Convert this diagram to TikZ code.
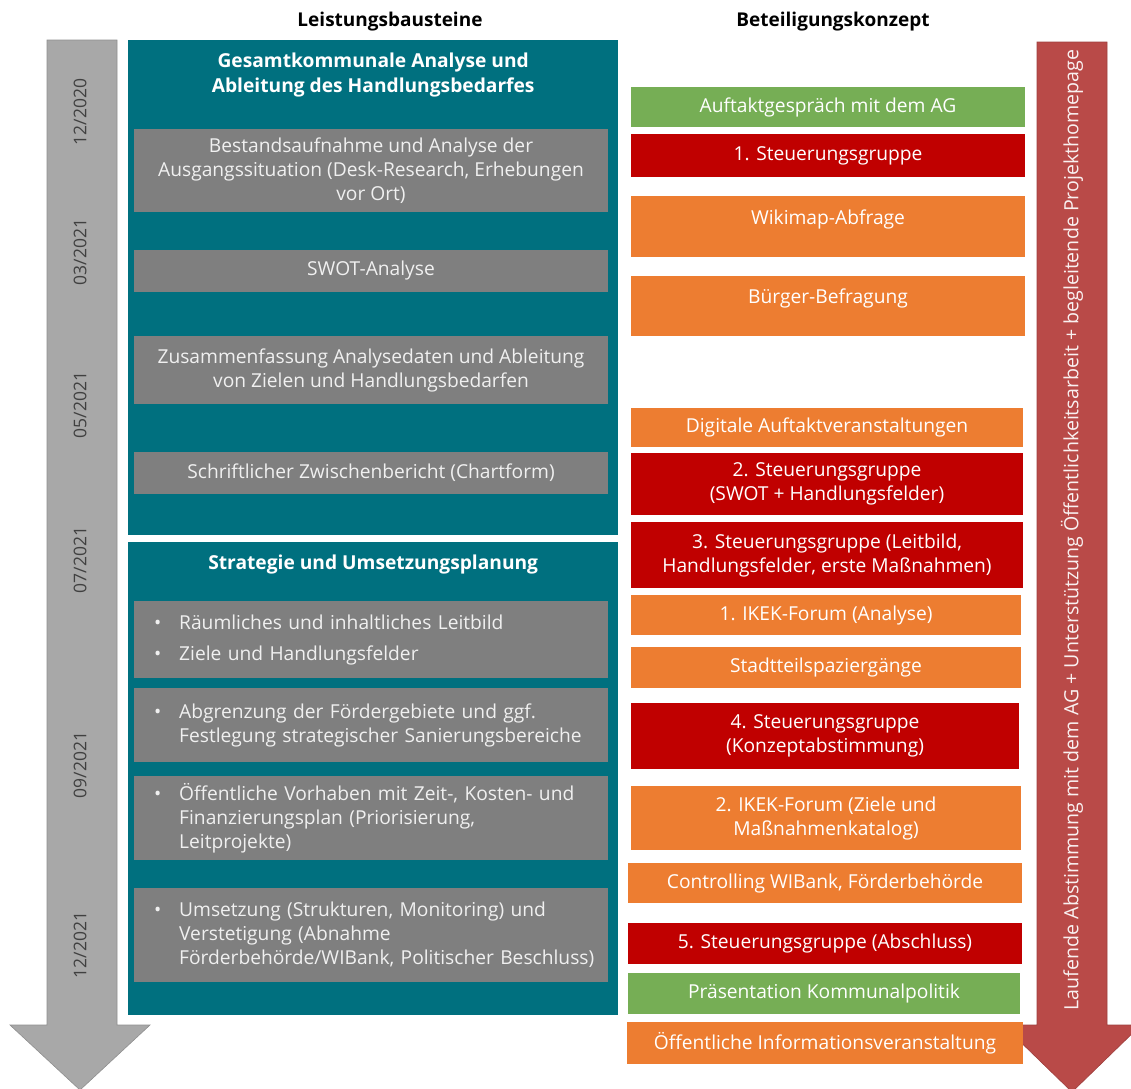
\documentclass[tikz,border=0pt]{standalone}
\usepackage{fontspec}
\setmainfont{Open Sans}
\usetikzlibrary{positioning}
\definecolor{ikekteal}{HTML}{00707F}
\definecolor{ikekgray}{HTML}{7F7F7F}
\definecolor{ikekgreen}{HTML}{76AE55}
\definecolor{ikekorange}{HTML}{ED7D31}
\definecolor{ikekred}{HTML}{C00000}
\definecolor{ikekarrow}{HTML}{B94A48}
\definecolor{ikektime}{HTML}{A8A8A8}
\definecolor{ikekdate}{HTML}{404040}

\newcommand{\bpt}{\hspace*{20pt}\makebox[25pt][l]{\textbullet}}
\newcommand{\bind}{\hspace*{45pt}}

\begin{document}
\begin{tikzpicture}[x=1pt, y=-1pt,
  every node/.style={font=\fontsize{19.2}{24}\selectfont},
  phase/.style={fill=ikekteal, inner sep=0pt, minimum width=490pt, anchor=north west},
  phasetitle/.style={text=white, align=center, font=\bfseries\fontsize{19.2}{25}\selectfont},
  task/.style={fill=ikekgray, text=white!94!black, align=center, minimum width=474pt, inner sep=0pt},
  bullettask/.style={fill=ikekgray, text=white!94!black, align=left, anchor=west, inner sep=0pt, text width=474pt},
  event/.style={text=white, align=center, minimum width=394pt, inner sep=0pt},
  datelbl/.style={rotate=90, text=ikekdate, font=\fontsize{17.5}{20}\selectfont},
  header/.style={font=\bfseries\fontsize{19}{20}\selectfont}]
  \useasboundingbox (0,0) rectangle (1131,1088);

  % Time arrows
  \filldraw[fill=ikektime, draw=ikektime!85!black, line width=0.6pt]
    (47,40) -- (117,40) -- (117,1025) -- (150,1025) -- (80,1090) -- (10,1025) -- (47,1025) -- cycle;
  \filldraw[fill=ikekarrow, draw=ikekarrow!85!black, line width=0.6pt]
    (1037,42) -- (1107,42) -- (1107,1025) -- (1141,1025) -- (1072,1092) -- (1003,1025) -- (1037,1025) -- cycle;

  % Headers
  \node[header] (hdrL) at (390,22) {Leistungsbausteine};
  \node[header] (hdrR) at (833,22) {Beteiligungskonzept};

  % Dates
  \node[datelbl] (d1) at (80,112) {12/2020};
  \node[datelbl] (d2) at (80,252) {03/2021};
  \node[datelbl] (d3) at (80,405) {05/2021};
  \node[datelbl] (d4) at (80,560) {07/2021};
  \node[datelbl] (d5) at (80,765) {09/2021};
  \node[datelbl] (d6) at (80,945) {12/2021};

  % Phases
  \node[phase, minimum height=495pt] (ph1) at (128,40) {};
  \node[phase, minimum height=473pt] (ph2) at (128,542) {};
  \node[phasetitle, below=9pt of ph1.north] (ph1t) {Gesamtkommunale Analyse und\\Ableitung des Handlungsbedarfes};
  \node[phasetitle, below=9pt of ph2.north] (ph2t) {Strategie und Umsetzungsplanung};

  % Leistungsbausteine
  \node[task, minimum height=83pt] (best) at (371,170.5) {Bestandsaufnahme und Analyse der\\Ausgangssituation (Desk-Research, Erhebungen\\vor Ort)};
  \node[task, minimum height=42pt] (swot) at (371,271) {SWOT-Analyse};
  \node[task, minimum height=68pt] (zus) at (371,370) {Zusammenfassung Analysedaten und Ableitung\\von Zielen und Handlungsbedarfen};
  \node[task, minimum height=42pt] (zwb) at (371,473) {Schriftlicher Zwischenbericht (Chartform)};
  \node[bullettask, minimum height=77pt] (leit) at (134,639.5) {\bpt Räumliches und inhaltliches Leitbild\\[7pt]\bpt Ziele und Handlungsfelder};
  \node[bullettask, minimum height=74pt] (abgr) at (134,725) {\bpt Abgrenzung der Fördergebiete und ggf.\\\bind Festlegung strategischer Sanierungsbereiche};
  \node[bullettask, minimum height=84pt] (vorh) at (134,818) {\bpt Öffentliche Vorhaben mit Zeit-, Kosten- und\\\bind Finanzierungsplan (Priorisierung,\\\bind Leitprojekte)};
  \node[bullettask, minimum height=94pt] (ums) at (134,935) {\bpt Umsetzung (Strukturen, Monitoring) und\\\bind Verstetigung (Abnahme\\\bind Förderbehörde/WIBank, Politischer Beschluss)};

  % Beteiligungskonzept
  \node[event, fill=ikekgreen, minimum height=40pt] (auft) at (828,107) {Auftaktgespräch mit dem AG};
  \node[event, fill=ikekred, minimum height=43pt] (sg1) at (828,155.5) {1. Steuerungsgruppe};
  \node[event, fill=ikekorange, text height=28pt, text depth=33pt] (wiki) at (828,226.5) {Wikimap-Abfrage};
  \node[event, fill=ikekorange, text height=27pt, text depth=33pt] (buerg) at (828,306) {Bürger-Befragung};
  \node[event, fill=ikekorange, minimum width=392pt, minimum height=39pt] (dig) at (827,427.5) {Digitale Auftaktveranstaltungen};
  \node[event, fill=ikekred, minimum width=392pt, minimum height=62pt] (sg2) at (827,484) {2. Steuerungsgruppe\\(SWOT + Handlungsfelder)};
  \node[event, fill=ikekred, minimum width=392pt, minimum height=66pt] (sg3) at (827,555) {3. Steuerungsgruppe (Leitbild,\\Handlungsfelder, erste Maßnahmen)};
  \node[event, fill=ikekorange, minimum width=390pt, minimum height=40pt] (ikek1) at (826,615) {1. IKEK-Forum (Analyse)};
  \node[event, fill=ikekorange, minimum width=390pt, minimum height=41pt] (stadt) at (826,667.5) {Stadtteilspaziergänge};
  \node[event, fill=ikekred, minimum width=388pt, minimum height=66pt] (sg4) at (825,736) {4. Steuerungsgruppe\\(Konzeptabstimmung)};
  \node[event, fill=ikekorange, minimum width=390pt, minimum height=64pt] (ikek2) at (826,818) {2. IKEK-Forum (Ziele und\\Maßnahmenkatalog)};
  \node[event, fill=ikekorange, minimum height=40pt] (contr) at (825,883) {Controlling WIBank, Förderbehörde};
  \node[event, fill=ikekred, minimum height=41pt] (sg5) at (825,943.5) {5. Steuerungsgruppe (Abschluss)};
  \node[event, fill=ikekgreen, minimum width=392pt, minimum height=41pt] (praes) at (824,993.5) {Präsentation Kommunalpolitik};
  \node[event, fill=ikekorange, minimum width=396pt, minimum height=42pt] (info) at (825,1043) {Öffentliche Informationsveranstaltung};

  % Ongoing work
  \node[rotate=90, text=white!92!ikekarrow, font=\fontsize{19.6}{24}\selectfont] (lauf) at (1072,530) {Laufende Abstimmung mit dem AG + Unterstützung Öffentlichkeitsarbeit + begleitende Projekthomepage};
\end{tikzpicture}
\end{document}
